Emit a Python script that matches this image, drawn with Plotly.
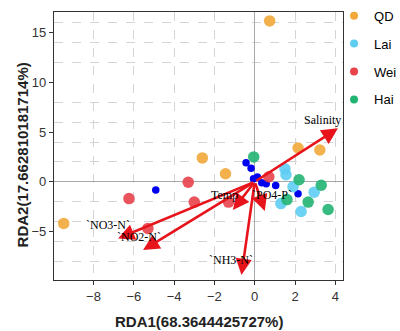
import plotly.graph_objects as go

# ---- data ----
groups = ["QD", "Lai", "Wei", "Hai"]
qd_x = [0.74, -9.48, -2.6, -1.45, 2.15, 3.23]
qd_y = [16.2, -4.2, 2.4, 0.8, 3.4, 3.2]
lai_x = [1.5, 1.55, 1.9, 2.95, 1.3, 2.3]
lai_y = [1.3, 0.7, -0.5, -1.05, -2.2, -3.0]
wei_x = [-3.3, -6.24, -3.0, -5.3, -1.3, 0.7]
wei_y = [-0.05, -1.7, -2.05, -4.7, -2.05, 0.5]
hai_x = [-0.05, 2.2, 3.3, 1.6, 2.65, 3.64]
hai_y = [2.5, 0.2, -0.35, -1.8, -2.05, -2.8]
site_x = [-4.91, -0.43, -0.18, 0.13, -0.06, 0.35, 0.57, 1.04, 2.15]
site_y = [-0.84, 1.9, 1.35, 0.47, 0.3, -0.1, -0.2, -0.37, -1.2]

env_names = ["Salinity", "`NO3-N`", "`NO2-N`", "Temp", "`PO4-P`", "`NH3-N`"]
env_x = [4.13, -6.78, -5.54, -1.08, 0.5, -0.66]
env_y = [5.38, -5.71, -6.89, -2.85, -2.95, -9.4]

x_title = "RDA1(68.3644425727%)"
y_title = "RDA2(17.662810181714%)"

# ---- styles ----
colors = {"QD": "#F2A93B", "Lai": "#5DCDF2", "Wei": "#E8434B", "Hai": "#22B473"}
label_shift = [(-15, 8), (-10, 13), (-4, 13), (-8, 15), (7, 16), (-10, 15)]

fig = go.Figure()
series = {"QD": (qd_x, qd_y), "Lai": (lai_x, lai_y), "Wei": (wei_x, wei_y), "Hai": (hai_x, hai_y)}

fig.add_trace(go.Scatter(x=site_x, y=site_y, mode="markers", showlegend=False,
                         marker=dict(size=7.5, color="#0000F0"), hoverinfo="skip"))
for g in groups:
    xs, ys = series[g]
    fig.add_trace(go.Scatter(x=xs, y=ys, mode="markers", name=g, showlegend=False,
                             marker=dict(size=11.5, color=colors[g], opacity=0.9)))
for g in groups:
    fig.add_trace(go.Scatter(x=[None], y=[None], mode="markers", name=g, legendgroup=g,
                             marker=dict(size=8, color=colors[g])))

anns = []
for name, ex, ey, (dx, dy) in zip(env_names, env_x, env_y, label_shift):
    anns.append(dict(x=ex, y=ey, ax=0, ay=0, xref="x", yref="y", axref="x", ayref="y",
                     showarrow=True, arrowhead=2, arrowsize=1.25, arrowwidth=2.6,
                     arrowcolor="#E8141C", text=""))
for name, ex, ey, (dx, dy) in zip(env_names, env_x, env_y, label_shift):
    anns.append(dict(x=ex, y=ey, xref="x", yref="y", showarrow=False, text=name,
                     xshift=dx, yshift=dy,
                     font=dict(family="Liberation Serif", size=12, color="black")))
anns.append(dict(x=-0.146, y=0.466, xref="paper", yref="paper", showarrow=False,
                 text="<b>" + y_title + "</b>", textangle=-90,
                 font=dict(family="Liberation Sans", size=15, color="#222")))
anns.append(dict(x=0.5, y=-0.155, xref="paper", yref="paper", showarrow=False,
                 text="<b>" + x_title + "</b>", yanchor="middle",
                 font=dict(family="Liberation Sans", size=15, color="#222")))

fig.update_layout(
    width=400, height=331,
    margin=dict(l=54, r=57, t=12, b=51, autoexpand=False),
    paper_bgcolor="white", plot_bgcolor="white",
    annotations=anns,
    legend=dict(x=0.969, y=1.042, xanchor="left", yanchor="top",
                font=dict(family="Liberation Sans", size=13, color="black"),
                tracegroupgap=8, itemwidth=30, bgcolor="rgba(0,0,0,0)"),
    font=dict(family="Liberation Sans"),
)
fig.update_xaxes(range=[-9.96, 4.38], dtick=2, tick0=0, ticks="outside", ticklen=4,
                 tickcolor="#333", showline=True, mirror=True, linecolor="#333", linewidth=1.2,
                 showgrid=True, griddash="dash", gridcolor="#d4d4d4", gridwidth=1,
                 zeroline=True, zerolinecolor="#a8a8a8", zerolinewidth=1,
                 tickfont=dict(size=13, color="#333"))
fig.update_yaxes(range=[-9.9, 17.1], dtick=5, tick0=0, ticks="outside", ticklen=4,
                 tickcolor="#333", showline=True, mirror=True, linecolor="#333", linewidth=1.2,
                 showgrid=False,
                 minor=dict(dtick=2, tick0=0, showgrid=True, griddash="dash",
                            gridcolor="#d4d4d4", gridwidth=1, ticks=""),
                 zeroline=True, zerolinecolor="#a8a8a8", zerolinewidth=1,
                 tickfont=dict(size=13, color="#333"))

fig.write_html("out.html", config={"displayModeBar": False},
               post_script="document.body.style.margin='0';document.body.style.overflow='hidden';")
